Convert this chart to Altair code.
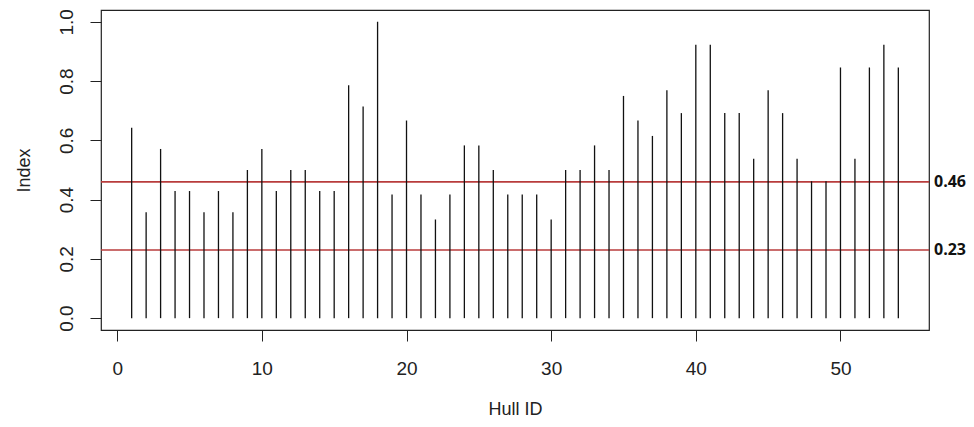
import altair as alt
import pandas as pd

hull_id = list(range(1, 55))
index_values = [
    0.643, 0.357, 0.571, 0.429, 0.429, 0.357, 0.429, 0.357, 0.500, 0.571,
    0.429, 0.500, 0.500, 0.429, 0.429, 0.786, 0.714, 1.000, 0.417, 0.667,
    0.417, 0.333, 0.417, 0.583, 0.583, 0.500, 0.417, 0.417, 0.417, 0.333,
    0.500, 0.500, 0.583, 0.500, 0.750, 0.667, 0.615, 0.769, 0.692, 0.923,
    0.923, 0.692, 0.692, 0.538, 0.769, 0.692, 0.538, 0.462, 0.462, 0.846,
    0.538, 0.846, 0.923, 0.846,
]
thresholds = [0.46, 0.23]
threshold_labels = ["0.46", "0.23"]
x_ticks = [0, 10, 20, 30, 40, 50]
y_ticks = [0.0, 0.2, 0.4, 0.6, 0.8, 1.0]

df = pd.DataFrame({"id": hull_id, "value": index_values})
thr = pd.DataFrame({"t": thresholds, "label": threshold_labels})

W, H = 828, 320
FONT = "Liberation Sans"

xscale = alt.Scale(domain=[-1.12, 56.12], nice=False, zero=False)
yscale = alt.Scale(domain=[-0.04, 1.04], nice=False, zero=False)

xaxis = alt.Axis(
    values=x_ticks, title="Hull ID", grid=False, domain=False,
    tickSize=11, tickColor="#222", tickWidth=1,
    labelFont=FONT, labelFontSize=19, labelColor="#222",
    labelBaseline="alphabetic", labelPadding=33,
    titleFont=FONT, titleFontSize=18, titleFontWeight="normal", titleColor="#222",
    titleX=W / 2, titleY=84, titleBaseline="alphabetic", titleAlign="center",
)
yaxis = alt.Axis(
    values=y_ticks, format=".1f", title="Index", grid=False, domain=False,
    tickSize=11, tickColor="#222", tickWidth=1,
    labelFont=FONT, labelFontSize=19, labelColor="#222",
    labelAngle=-90, labelAlign="center", labelBaseline="alphabetic", labelPadding=18,
    titleFont=FONT, titleFontSize=18, titleFontWeight="normal", titleColor="#222",
    titleAngle=-90, titleX=-72, titleY=H / 2, titleBaseline="alphabetic", titleAlign="center",
)

bars = alt.Chart(df).mark_rule(color="#111", strokeWidth=1.3).encode(
    x=alt.X("id:Q", scale=xscale, axis=xaxis),
    y=alt.Y("value:Q", scale=yscale, axis=yaxis),
    y2=alt.datum(0),
)

hlines = alt.Chart(thr).mark_rule(color="#b83c3c", strokeWidth=1.6).encode(
    y=alt.Y("t:Q", scale=yscale),
)

labels = alt.Chart(thr).mark_text(
    align="left", baseline="middle", font="Open Sans", fontSize=16,
    fontWeight="bold", color="#111", clip=False,
).encode(
    x=alt.value(W + 5),
    y=alt.Y("t:Q", scale=yscale),
    text="label:N",
)

chart = alt.layer(hlines, bars, labels).properties(
    width=W, height=H,
    autosize=alt.AutoSizeParams(type="none"),
    padding={"left": 93, "top": 2, "right": 37, "bottom": 89},
    background="white",
).configure_view(stroke="#222", strokeWidth=1.2)

chart.save("out.html", embed_options={"renderer": "svg", "actions": False})
